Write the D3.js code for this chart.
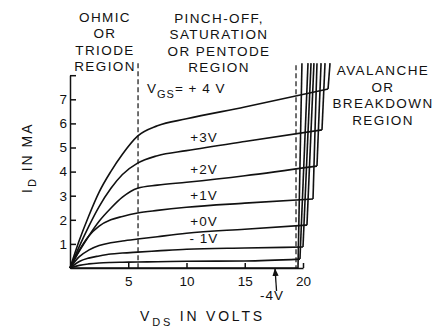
<!DOCTYPE html>
<html><head><meta charset="utf-8">
<script src="https://cdn.jsdelivr.net/npm/d3@7"></script>
<style>
html,body{margin:0;padding:0;background:#fff;}
svg text{font-family:"Liberation Sans",Arial,sans-serif;fill:#111;}
</style></head>
<body>
<svg id="chart" width="446" height="331"></svg>
<script>
// ---- data ----
const vdsGrid = [0, 0.8, 1.6, 2.5, 3.5, 4.5, 5.8, 7.5, 10, 15];
const vgsValues = [4, 3, 2, 1, 0, -1, -2, -4];
const vgsLabels = ["", "+3V", "+2V", "+1V", "+0V", "- 1V", "", ""];
const idP4 = [0, 1.15, 2.15, 3.15, 4.0, 4.72, 5.47, 5.9, 6.19, 6.68];
const idP3 = [0, 0.9, 1.72, 2.55, 3.3, 3.88, 4.35, 4.66, 4.87, 5.25];
const idP2 = [0, 0.7, 1.32, 1.94, 2.48, 2.94, 3.31, 3.44, 3.56, 3.83];
const idP1 = [0, 0.74, 1.32, 1.74, 2.0, 2.14, 2.28, 2.39, 2.52, 2.69];
const idZ0 = [0, 0.47, 0.74, 0.93, 1.05, 1.12, 1.2, 1.3, 1.44, 1.61];
const idM1 = [0, 0.27, 0.41, 0.5, 0.58, 0.62, 0.66, 0.71, 0.78, 0.83];
const idM2 = [0, 0.11, 0.17, 0.21, 0.23, 0.24, 0.25, 0.26, 0.28, 0.29];
const idM4 = [0, 0, 0, 0, 0, 0, 0, 0, 0, 0];
const seriesId = [idP4, idP3, idP2, idP1, idZ0, idM1, idM2, idM4];
// onset of avalanche (Vds, Id) and top of the breakdown line
const breakVds = [22.15, 21.63, 21.2, 20.86, 20.34, 20.0, 19.74, 19.57];
const breakId = [7.43, 5.73, 4.23, 2.86, 1.78, 0.87, 0.37, 0];
const breakTopVds = [22.32, 21.89, 21.55, 21.2, 20.94, 20.69, 20.43, 19.91];
const breakTopId = 8.5;
const regionBounds = [5.84, 19.4];
const xTicks = [5, 10, 15, 20];
const yTicks = [1, 2, 3, 4, 5, 6, 7, 8];
const yTickLabels = ["1", "2", "3", "4", "5", "6", "7", ""];
const ohmicLines = ["OHMIC", "OR", "TRIODE", "REGION"];
const pinchLines = ["PINCH-OFF,", "SATURATION", "OR PENTODE", "REGION"];
const avalancheLines = ["AVALANCHE", "OR", "BREAKDOWN", "REGION"];
const cutoffVgs = "-4V";
const cutoffVds = 17.6;
const labelVds = 11.5;

// ---- scales ----
const svg = d3.select("#chart");
const x = d3.scaleLinear().domain([0, 20]).range([70, 303]);
const y = d3.scaleLinear().domain([0, 8]).range([268, 75.2]);
const ink = "#111";

// ---- axes ----
const xAxis = d3.axisBottom(x).tickValues(xTicks).tickSizeInner(-5).tickSizeOuter(0).tickPadding(8);
const gx = svg.append("g").attr("transform", `translate(0,${y(0)})`).call(xAxis);
const yAxis = d3.axisLeft(y).tickValues(yTicks).tickSizeInner(-6).tickSizeOuter(0).tickPadding(3)
  .tickFormat((d, i) => yTickLabels[i]);
const gy = svg.append("g").attr("transform", `translate(${x(0)},0)`).call(yAxis);
[gx, gy].forEach(g => {
  g.selectAll("path,line").attr("stroke", ink).attr("stroke-width", 1.5);
  g.selectAll("text").attr("fill", ink).style("font-size", "13.5px")
    .style("font-family", '"Liberation Sans",Arial,sans-serif');
});

// ---- region boundaries ----
svg.append("g").selectAll("line").data(regionBounds).join("line")
  .attr("x1", d => x(d)).attr("x2", d => x(d))
  .attr("y1", (d, i) => i ? y(breakTopId) + 2 : y(breakTopId)).attr("y2", y(0))
  .attr("stroke", ink).attr("stroke-width", 1.2).attr("stroke-dasharray", "5,3");

// ---- curves ----
const line = d3.line().x(d => x(d[0])).y(d => y(d[1])).curve(d3.curveMonotoneX);
const straight = d3.line().x(d => x(d[0])).y(d => y(d[1]));
const curvesG = svg.append("g").attr("fill", "none").attr("stroke", ink).attr("stroke-width", 1.6);
seriesId.forEach((ids, k) => {
  const pts = vdsGrid.map((v, i) => [v, ids[i]]);
  pts.push([breakVds[k], breakId[k]]);
  curvesG.append("path").attr("d", line(pts));
  curvesG.append("path").attr("d", straight([[breakVds[k], breakId[k]], [breakTopVds[k], breakTopId]]));
});

// ---- curve labels ----
function idAt(k, v) {
  const vs = vdsGrid.concat([breakVds[k]]);
  const is = seriesId[k].concat([breakId[k]]);
  for (let i = 1; i < vs.length; i++) {
    if (v <= vs[i]) { const t = (v - vs[i - 1]) / (vs[i] - vs[i - 1]); return is[i - 1] + t * (is[i] - is[i - 1]); }
  }
  return is[is.length - 1];
}
vgsLabels.forEach((lab, k) => {
  if (!lab) return;
  svg.append("text").attr("x", x(labelVds)).attr("y", y(idAt(k, labelVds)) - 6)
    .attr("text-anchor", "middle").style("font-size", "13.5px").style("letter-spacing", "1px").text(lab);
});
const vgsT = svg.append("text").attr("x", 147).attr("y", 93).style("font-size", "13.5px").style("letter-spacing", "1px");
vgsT.append("tspan").text("V");
vgsT.append("tspan").attr("dy", 5).style("font-size", "11px").text("GS");
vgsT.append("tspan").attr("dy", -5).text("= + 4 V");

// cut-off arrow
svg.append("defs").append("marker").attr("id", "ah").attr("viewBox", "0 0 10 10").attr("refX", 9).attr("refY", 5)
  .attr("markerWidth", 6).attr("markerHeight", 6).attr("orient", "auto")
  .append("path").attr("d", "M0,1 L10,5 L0,9 Z").attr("fill", ink);
svg.append("line").attr("x1", x(cutoffVds) + 1.5).attr("y1", y(0) + 23).attr("x2", x(cutoffVds)).attr("y2", y(0) + 1)
  .attr("stroke", ink).attr("stroke-width", 1.3).attr("marker-end", "url(#ah)");
svg.append("text").attr("x", x(cutoffVds) - 3).attr("y", 300).attr("text-anchor", "middle")
  .style("font-size", "13.5px").style("letter-spacing", "1px").text(cutoffVgs);

// ---- region labels ----
function block(lines, cx, y0, dy) {
  svg.append("g").selectAll("text").data(lines).join("text")
    .attr("x", cx).attr("y", (d, i) => y0 + i * dy).attr("text-anchor", "middle")
    .style("font-size", "13.5px").style("letter-spacing", "1.4px").text(d => d);
}
block(ohmicLines, 105, 22, 16.3);
block(pinchLines, 219, 23, 16.3);
block(avalancheLines, 383, 75, 16.7);

// ---- axis titles ----
const xt = svg.append("text").attr("x", 140).attr("y", 321).style("font-size", "14px").style("letter-spacing", "2.8px");
xt.append("tspan").text("V");
xt.append("tspan").attr("dy", 5).style("font-size", "11px").text("DS");
xt.append("tspan").attr("dy", -5).text(" IN VOLTS");
const yt = svg.append("text").attr("transform", "translate(32,193) rotate(-90)").style("font-size", "14px").style("letter-spacing", "2px");
yt.append("tspan").text("I");
yt.append("tspan").attr("dy", 4).style("font-size", "11px").text("D");
yt.append("tspan").attr("dy", -4).text(" IN MA");
</script>
</body></html>
